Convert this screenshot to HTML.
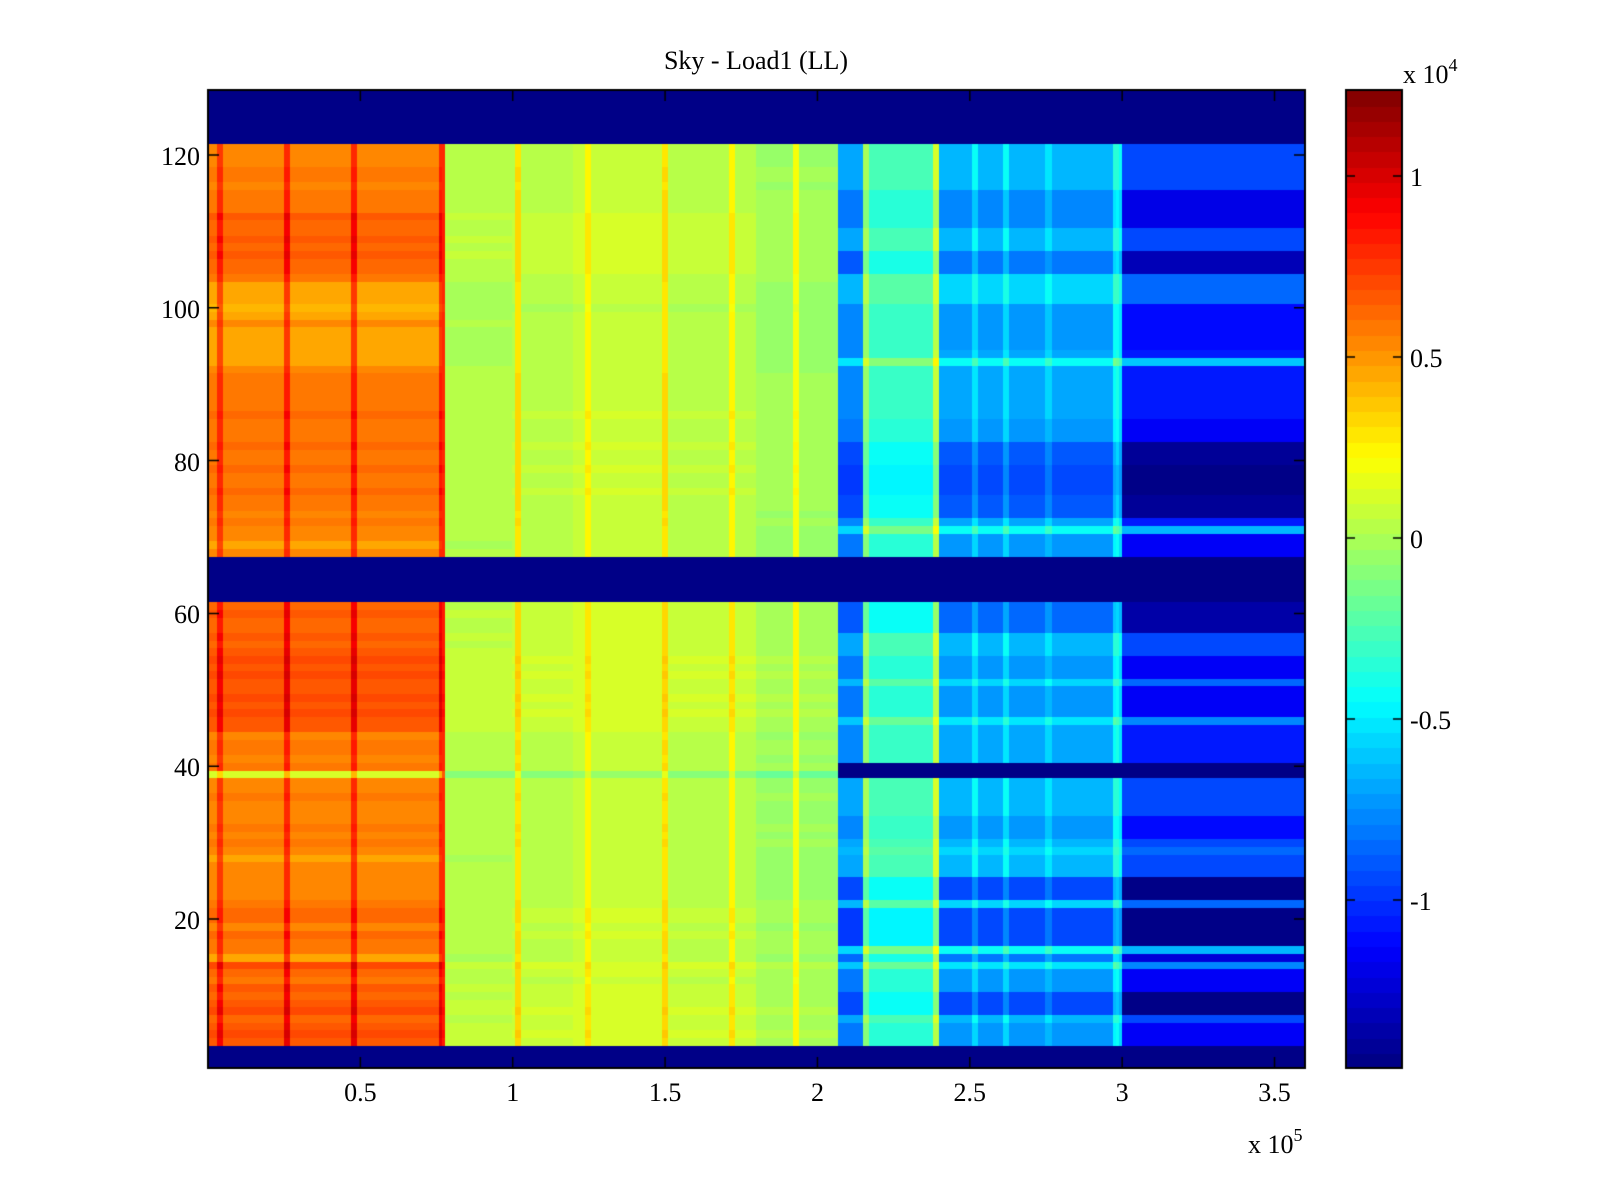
<!DOCTYPE html>
<html><head><meta charset="utf-8"><style>
body{margin:0;background:#fff;width:1600px;height:1200px;overflow:hidden;position:relative;font-family:"Liberation Serif",serif;color:#000}
canvas{position:absolute;left:0;top:0}
.t{position:absolute;font-size:26px;line-height:1;white-space:nowrap}
</style></head><body>
<canvas id="c" width="1600" height="1200"></canvas>
<div id="labels"></div>
<script>
// ---- data (x in 1e5, values in 1e4) ----
const xRange=[0,3.6];
const yRange=[0.5,128.5];
const cRange=[-1.464,1.2376];
const xTicks=[0.5,1,1.5,2,2.5,3,3.5];
const xTickLabels=["0.5","1","1.5","2","2.5","3","3.5"];
const yTicks=[20,40,60,80,100,120];
const yTickLabels=["20","40","60","80","100","120"];
const cTicks=[-1,-0.5,0,0.5,1];
const cTickLabels=["-1","-0.5","0","0.5","1"];
const segStart=[0,0.77,1.0,1.2,1.5,1.8,2.07,2.15,2.4,2.98,3.0];
const segEnd=[0.77,1.0,1.2,1.5,1.8,2.07,2.15,2.4,2.98,3.0,3.6];
const segValue=[0.52,0.02,0.04,0.08,0.04,-0.04,-0.7,-0.25,-0.62,-0.45,-0.95];
const segRowSens=[1,0.3,0.3,0.3,0.3,0.3,0.5,0.4,0.6,0.5,1];
const lineX=[0.04,0.26,0.48,0.77,1.02,1.25,1.5,1.72,1.93,2.16,2.39,2.52,2.62,2.76,2.98];
const lineValue=[0.75,0.8,0.8,0.8,0.3,0.25,0.3,0.25,0.2,0.0,0.1,-0.45,-0.45,-0.5,-0.35];
const maskedRows=[1,2,3,62,63,64,65,66,67,122,123,124,125,126,127,128];
const rowLeft=[0,0,0,0.15,0.2,0.15,0.1,0.2,0.15,0.1,0.15,0.05,0.1,0.2,-0.05,0.05,0.05,0.1,0.0,0.1,0.1,0.05,0,0,0,0,0,-0.05,0,0.05,0,0.05,0,0,0,0.05,0,0,-0.4,0.05,0,0.05,0.05,0,0.15,0.15,0.2,0.15,0.2,0.15,0.15,0.2,0.15,0.2,0.15,0.1,0.15,0.1,0.1,0.15,0.1,0,0,0,0,0,0,0,-0.05,0,0,0.05,0,0.05,0.05,0.1,0.05,0.05,0.1,0.05,0.05,0.1,0.05,0.05,0.05,0.1,0.05,0.05,0.05,0.05,0.05,0,-0.05,-0.05,-0.05,-0.05,-0.05,0,-0.05,-0.1,-0.05,-0.05,-0.05,0.05,0.1,0.1,0.15,0.1,0.15,0.1,0.1,0.15,0.05,0.05,0.05,0,0.05,0.05,0,0,0,0,0,0,0];
const rowRight=[0,0,0,-0.2,-0.2,-0.2,0,-0.5,-0.5,-0.5,-0.2,-0.2,-0.2,0.2,-0.3,0.3,-0.55,-0.55,-0.55,-0.55,-0.55,0.1,-0.5,-0.5,-0.5,0,0,0,0.1,0,-0.15,-0.15,-0.15,0,0,0,0,0,-1.5,-1.5,-0.1,-0.1,-0.1,-0.1,-0.1,0.2,-0.2,-0.2,-0.2,-0.2,0.1,-0.2,-0.2,-0.2,0,0,0,-0.4,-0.4,-0.4,-0.4,0,0,0,0,0,0,-0.2,-0.2,-0.2,0.3,-0.1,-0.45,-0.45,-0.45,-0.55,-0.55,-0.55,-0.55,-0.45,-0.45,-0.45,-0.2,-0.2,-0.2,-0.1,-0.1,-0.1,-0.1,-0.1,-0.1,-0.1,0.35,-0.1,-0.15,-0.15,-0.15,-0.15,-0.15,-0.15,0.1,0.1,0.1,0.1,-0.35,-0.35,-0.35,0,0,0,-0.25,-0.25,-0.25,-0.25,-0.25,0,0,0,0,0,0,0,0,0,0,0,0,0];
// ---- layout ----
const P={l:208,t:90,r:1305,b:1068};
const CB={l:1346,t:90,r:1402,b:1068};
const sx=v=>P.l+(v-xRange[0])/(xRange[1]-xRange[0])*(P.r-P.l);
const sy=v=>P.t+(yRange[1]-v)/(yRange[1]-yRange[0])*(P.b-P.t);
const sc=v=>CB.t+(cRange[1]-v)/(cRange[1]-cRange[0])*(CB.b-CB.t);
function jet(v){
  let t=(v-cRange[0])/(cRange[1]-cRange[0]);t=Math.max(0,Math.min(0.9999,t));
  t=(Math.floor(t*64)+0.5)/64;
  const f=x=>Math.round(255*Math.max(0,Math.min(1,1.5-Math.abs(4*t-x))));
  return `rgb(${f(3)},${f(2)},${f(1)})`;
}
const ctx=document.getElementById('c').getContext('2d');
const nCol=360, dx=(xRange[1]-xRange[0])/nCol;
for(let c=0;c<nCol;c++){
  const x=xRange[0]+(c+0.5)*dx;
  let s=segStart.findIndex((a,i)=>x>=a&&x<segEnd[i]);if(s<0)s=segStart.length-1;
  let base=segValue[s];
  for(let k=0;k<lineX.length;k++) if(Math.abs(x-lineX[k])<dx*0.9) base=lineValue[k];
  for(let r=1;r<=128;r++){
    let v;
    if(maskedRows.includes(r)) v=cRange[0];
    else if(x<2.07) v=base+rowLeft[r-1]*(x<0.77?1:segRowSens[s]);
    else v=(rowRight[r-1]<=-1.5)?cRange[0]:base+rowRight[r-1]*segRowSens[s];
    ctx.fillStyle=jet(v);
    const x0=Math.floor(sx(x-dx/2)),x1=Math.ceil(sx(x+dx/2));
    const y0=Math.floor(sy(r+0.5)),y1=Math.ceil(sy(r-0.5));
    ctx.fillRect(x0,y0,x1-x0,y1-y0);
  }
}
// colorbar
for(let i=0;i<64;i++){
  const v0=cRange[0]+i*(cRange[1]-cRange[0])/64,v1=cRange[0]+(i+1)*(cRange[1]-cRange[0])/64;
  ctx.fillStyle=jet((v0+v1)/2);
  ctx.fillRect(CB.l,Math.floor(sc(v1)),CB.r-CB.l,Math.ceil(sc(v0)-sc(v1))+1);
}
ctx.strokeStyle='#000';ctx.lineWidth=2;
ctx.strokeRect(P.l,P.t,P.r-P.l,P.b-P.t);
ctx.strokeRect(CB.l,CB.t,CB.r-CB.l,CB.b-CB.t);
ctx.lineWidth=1.5;ctx.beginPath();
xTicks.forEach(v=>{const X=sx(v);ctx.moveTo(X,P.b);ctx.lineTo(X,P.b-11);ctx.moveTo(X,P.t);ctx.lineTo(X,P.t+11);});
yTicks.forEach(v=>{const Y=sy(v);ctx.moveTo(P.l,Y);ctx.lineTo(P.l+11,Y);ctx.moveTo(P.r,Y);ctx.lineTo(P.r-11,Y);});
cTicks.forEach(v=>{const Y=sc(v);ctx.moveTo(CB.l,Y);ctx.lineTo(CB.l+9,Y);ctx.moveTo(CB.r,Y);ctx.lineTo(CB.r-9,Y);});
ctx.stroke();
// labels
const L=document.getElementById('labels');
function lab(txt,x,y,align,name){
  const d=document.createElement('div');d.className='t';d.innerHTML=txt;
  
  
  d.style.top=(y-20)+'px';
  if(align==='c'){d.style.left=x+'px';d.style.transform='translateX(-50%)';}
  else if(align==='r'){d.style.right=(1600-x)+'px';}
  else d.style.left=x+'px';
  L.appendChild(d);
}
xTicks.forEach((v,i)=>lab(xTickLabels[i],sx(v),1100,'c','x-tick-label'));
yTicks.forEach((v,i)=>lab(yTickLabels[i],200,sy(v)+9,'r','y-tick-label'));
cTicks.forEach((v,i)=>lab(cTickLabels[i],1410,sc(v)+9,'l','colorbar-tick-label'));
lab('Sky - Load1 (LL)',756,68,'c','chart-title');
lab('x 10<sup style="font-size:18px;vertical-align:12px">5</sup>',1248,1146,'l','x-axis-exponent');
lab('x 10<sup style="font-size:18px;vertical-align:12px">4</sup>',1403,76,'l','colorbar-exponent');
</script>
</body></html>
